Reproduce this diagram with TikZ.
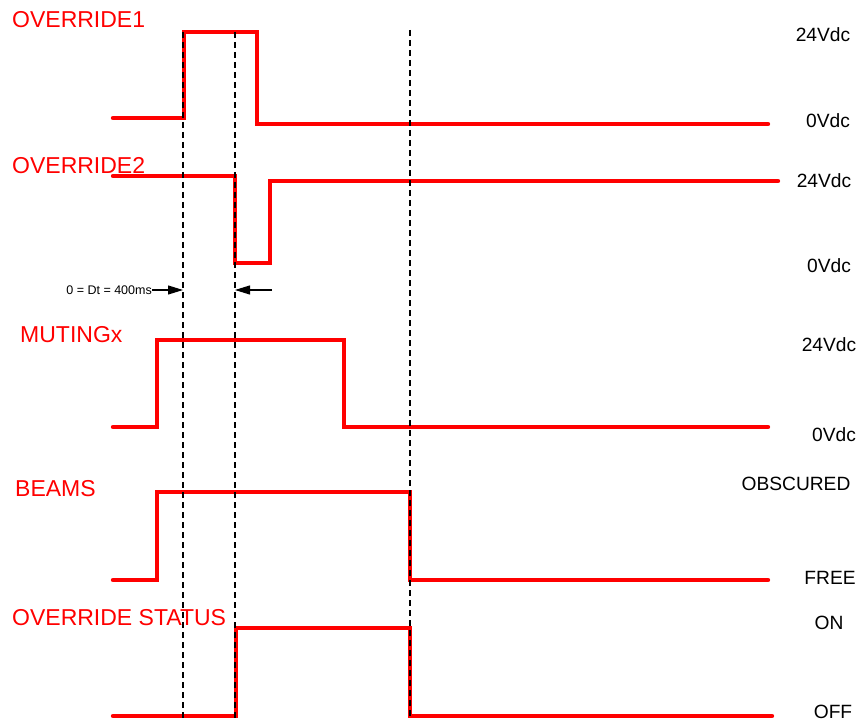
\documentclass[tikz,border=0pt]{standalone}
\usepackage{fontspec}
\setmainfont{Liberation Sans}
\usetikzlibrary{arrows.meta}
\usepackage{xcolor}
\definecolor{signal}{HTML}{FF0000}
\definecolor{guide}{HTML}{000000}

\begin{document}
\begin{tikzpicture}[x=1pt,y=-1pt,
  wave/.style={signal,line width=4.4pt,line cap=round,line join=miter},
  marker/.style={guide,line width=1.7pt,dash pattern=on 6pt off 4pt},
  siglabel/.style={signal,font=\fontsize{23}{26}\selectfont,anchor=west,inner sep=0pt},
  level/.style={guide,font=\fontsize{19.2}{22}\selectfont,inner sep=0pt}]
  \useasboundingbox (0,0) rectangle (862,722);

  % Signal names
  \node[siglabel] (ov1) at (12,20) {OVERRIDE1};
  \node[siglabel] (ov2) at (12,166) {OVERRIDE2};
  \node[siglabel] (mut) at (20,335) {MUTINGx};
  \node[siglabel] (bea) at (15,489) {BEAMS};
  \node[siglabel] (sta) at (12,618) {OVERRIDE STATUS};

  % Waveforms
  \draw[wave] (113,118) -- (184,118) -- (184,32) -- (257,32) -- (257,124) -- (768,124);
  \draw[wave] (113,176) -- (235,176) -- (235,263) -- (270,263) -- (270,181) -- (778,181);
  \draw[wave] (113,427) -- (157,427) -- (157,340) -- (344,340) -- (344,427) -- (768,427);
  \draw[wave] (113,580) -- (157,580) -- (157,492) -- (410,492) -- (410,580) -- (768,580);
  \draw[wave] (113,716) -- (236,716) -- (236,628) -- (410,628) -- (410,716) -- (772,716);

  % Time markers
  \draw[marker] (183,32) -- (183,718);
  \draw[marker] (235,32) -- (235,718);
  \draw[marker] (410,30) -- (410,718);

  % Levels
  \node[level] (h1) at (823,35) {24Vdc};
  \node[level] (l1) at (828,121) {0Vdc};
  \node[level] (h2) at (824,181) {24Vdc};
  \node[level] (l2) at (829,266) {0Vdc};
  \node[level] (h3) at (829,345) {24Vdc};
  \node[level] (l3) at (834,435) {0Vdc};
  \node[level] (h4) at (796,484) {OBSCURED};
  \node[level] (l4) at (830,578) {FREE};
  \node[level] (h5) at (829,623) {ON};
  \node[level] (l5) at (833,712) {OFF};

  % Delay between the two overrides
  \node[guide,font=\fontsize{12.5}{14}\selectfont,anchor=east,inner sep=0pt] (dt) at (152,290) {0 = Dt = 400ms};
  \coordinate (dtl) at (183,290);
  \coordinate (dtr) at (235,290);
  \coordinate (tail) at (272,290);
  \draw[guide,line width=1.1pt,-{Triangle[length=15pt,width=9pt]}] (dt.east) -- (dtl);
  \draw[guide,line width=1.1pt,-{Triangle[length=15pt,width=9pt]}] (tail) -- (dtr);
\end{tikzpicture}
\end{document}
